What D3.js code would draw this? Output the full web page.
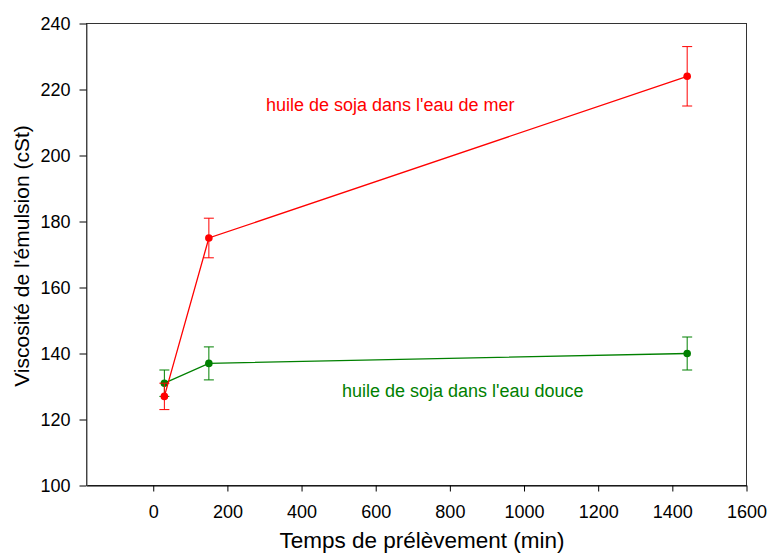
<!DOCTYPE html>
<html>
<head>
<meta charset="utf-8">
<script src="https://cdn.jsdelivr.net/npm/d3@7"></script>
<style>
  html, body { margin: 0; padding: 0; background: #fff; }
  svg { display: block; font-family: Arial, "Liberation Sans", sans-serif; }
</style>
</head>
<body>
<svg id="chart" width="769" height="553"></svg>
<script>
// ---- data ----
const times = [30, 150, 1440];
const seaWater = [127, 175, 224];
const seaWaterErr = [4, 6, 9];
const freshWater = [131, 137, 140];
const freshWaterErr = [4, 5, 5];
const xTicks = [0, 200, 400, 600, 800, 1000, 1200, 1400, 1600];
const yTicks = [100, 120, 140, 160, 180, 200, 220, 240];
const seriesNames = ["huile de soja dans l'eau de mer", "huile de soja dans l'eau douce"];
const xTitle = "Temps de prélèvement (min)";
const yTitle = "Viscosité de l'émulsion (cSt)";

const svg = d3.select("#chart");
const pL = 86.5, pR = 746.5, pT = 23.5, pB = 485.5;

const x = d3.scaleLinear().domain([-180, 1600]).range([pL, pR]);
const y = d3.scaleLinear().domain([100, 240]).range([pB, pT]);

// frame
svg.append("rect")
  .attr("x", pL).attr("y", pT)
  .attr("width", pR - pL).attr("height", pB - pT)
  .attr("fill", "none").attr("stroke", "#333").attr("stroke-width", 1);

// axes
const xAxis = svg.append("g").attr("transform", `translate(0,${pB})`)
  .call(d3.axisBottom(x).tickValues(xTicks).tickSize(6).tickSizeOuter(0).tickFormat(d3.format("d")));
xAxis.select(".domain").attr("stroke", "#000");
xAxis.selectAll("text").attr("font-size", 18).attr("fill", "#000").attr("dy", "0.71em").attr("y", 20);
xAxis.selectAll("line").attr("stroke", "#000");

const yAxis = svg.append("g").attr("transform", `translate(${pL},0)`)
  .call(d3.axisLeft(y).tickValues(yTicks).tickSize(7).tickSizeOuter(0).tickFormat(d3.format("d")));
yAxis.select(".domain").attr("stroke", "#555");
yAxis.selectAll("text").attr("font-size", 18).attr("fill", "#000").attr("x", -16);
yAxis.selectAll("line").attr("stroke", "#000");

svg.selectAll(".domain").attr("stroke-width", 1);

// axis titles
svg.append("text").attr("x", 422).attr("y", 548)
  .attr("text-anchor", "middle").attr("font-size", 22.5).attr("fill", "#000").text(xTitle);
svg.append("text").attr("transform", `translate(29,256) rotate(-90)`)
  .attr("text-anchor", "middle").attr("font-size", 21).attr("fill", "#000").text(yTitle);

function drawSeries(vals, errs, color) {
  const g = svg.append("g");
  const pts = times.map((t, i) => ({ t, v: vals[i], e: errs[i] }));
  g.append("path").datum(pts)
    .attr("fill", "none").attr("stroke", color).attr("stroke-width", 1.3)
    .attr("d", d3.line().x(d => x(d.t)).y(d => y(d.v)));
  const eb = g.selectAll(".eb").data(pts).enter().append("g");
  eb.append("line")
    .attr("x1", d => x(d.t)).attr("x2", d => x(d.t))
    .attr("y1", d => y(d.v - d.e)).attr("y2", d => y(d.v + d.e))
    .attr("stroke", color).attr("stroke-width", 1);
  eb.append("line")
    .attr("x1", d => x(d.t) - 5).attr("x2", d => x(d.t) + 5)
    .attr("y1", d => y(d.v + d.e)).attr("y2", d => y(d.v + d.e))
    .attr("stroke", color).attr("stroke-width", 1);
  eb.append("line")
    .attr("x1", d => x(d.t) - 5).attr("x2", d => x(d.t) + 5)
    .attr("y1", d => y(d.v - d.e)).attr("y2", d => y(d.v - d.e))
    .attr("stroke", color).attr("stroke-width", 1);
  g.selectAll("circle").data(pts).enter().append("circle")
    .attr("cx", d => x(d.t)).attr("cy", d => y(d.v)).attr("r", 3.8)
    .attr("fill", color);
}

drawSeries(freshWater, freshWaterErr, "#008000");
drawSeries(seaWater, seaWaterErr, "#ff0000");

// series labels
svg.append("text").attr("x", 266).attr("y", 111).attr("font-size", 18)
  .attr("fill", "#ff0000").text(seriesNames[0]);
svg.append("text").attr("x", 342).attr("y", 397).attr("font-size", 18)
  .attr("fill", "#008000").text(seriesNames[1]);
</script>
</body>
</html>
